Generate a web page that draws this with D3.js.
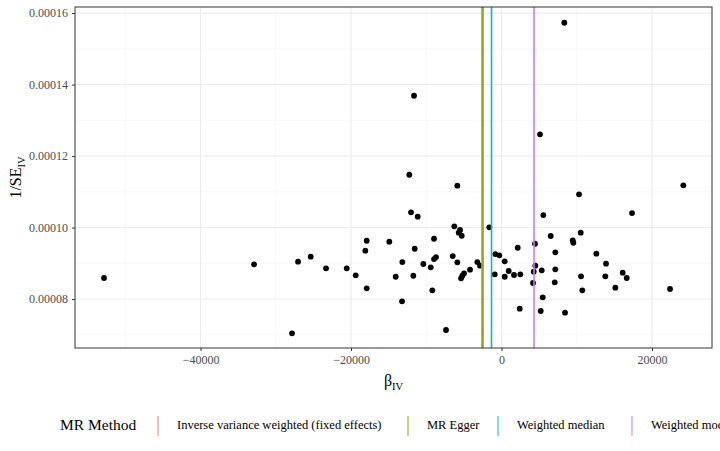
<!DOCTYPE html>
<html>
<head>
<meta charset="utf-8">
<script src="https://cdn.jsdelivr.net/npm/d3@7"></script>
<style>
  body { margin: 0; background: #fff; }
  svg text { font-family: "Liberation Serif", "DejaVu Serif", serif !important; }
</style>
</head>
<body>
<svg id="chart" width="720" height="451"></svg>
<script>
// SNP estimates: beta_IV and 1/SE_IV (x 1e-5)
const beta = [8346, -11628, 5116, -12252, -5874, 24159, 10299, -12026, -11136, 5555,
  17342, -1621, -6272, -5515, -5688, -5289, 6538, 10525, -17914, -14910,
  -8970, 9462, 9541, -18100, -11535, 2153, 4452, 7149, -824, -292,
  12598, -6485, -8704, -8970, -13183, -5874, -3216, -2857, 425, 13887,
  -10392, -9409, 4492, -4186, -4983, -5209, -5382, 957, 4279, 5342,
  7149, 16106, -904, 425, 1661, 2498, -14060, -11721, 10565, 13794,
  16638, 4186, 7070, -17914, -9196, 5475, 10737, 15123, 22392, -13223,
  2419, 5209, 8439, -7375, -52824, -32890, -27840, -27043, -25355, -23322,
  -20571, -19375];
const invSe = [15.729, 13.687, 12.607, 11.477, 11.170, 11.181, 10.929, 10.426, 10.303, 10.350,
  10.406, 10.006, 10.034, 9.931, 9.855, 9.771, 9.763, 9.855, 9.631, 9.603,
  9.687, 9.642, 9.575, 9.352, 9.407, 9.435, 9.547, 9.307, 9.259, 9.223,
  9.268, 9.203, 9.175, 9.119, 9.035, 9.027, 9.035, 8.932, 9.055, 8.988,
  8.980, 8.887, 8.932, 8.820, 8.719, 8.652, 8.580, 8.784, 8.764, 8.803,
  8.831, 8.736, 8.691, 8.624, 8.672, 8.691, 8.624, 8.652, 8.635, 8.635,
  8.588, 8.448, 8.468, 8.300, 8.244, 8.048, 8.244, 8.317, 8.280, 7.936,
  7.729, 7.665, 7.617, 7.134, 8.588, 8.971, 7.041, 9.044, 9.184, 8.859,
  8.859, 8.664].map(v => v * 1e-5);

const methods = ["Inverse variance weighted (fixed effects)", "MR Egger", "Weighted median", "Weighted mode"];
const methodEst = [-2600, -2460, -1330, 4320];
const methodColors = ["#F8766D", "#7CAE00", "#00BFC4", "#C77CFF"];

const xTicks = [-40000, -20000, 0, 20000];
const yTicks = [0.00008, 0.00010, 0.00012, 0.00014, 0.00016];

const svg = d3.select('#chart');
const m = { left: 75, right: 712, top: 7, bottom: 348 };

const x = d3.scaleLinear().domain([-56680, 27970]).range([m.left, m.right]);
const y = d3.scaleLinear().domain([0.0000663, 0.0001617]).range([m.bottom, m.top]);

const grid = svg.append('g');
// minor grid
const xMinor = d3.range(-50000, 30000, 10000).filter(v => v % 20000 !== 0);
const yMinor = [0.00007, 0.00009, 0.00011, 0.00013, 0.00015];
grid.selectAll('.xm').data(xMinor).join('line')
  .attr('x1', d => x(d)).attr('x2', d => x(d)).attr('y1', m.top).attr('y2', m.bottom)
  .attr('stroke', '#f2f2f2').attr('stroke-width', 0.6);
grid.selectAll('.ym').data(yMinor).join('line')
  .attr('y1', d => y(d)).attr('y2', d => y(d)).attr('x1', m.left).attr('x2', m.right)
  .attr('stroke', '#f2f2f2').attr('stroke-width', 0.6);
// major grid
grid.selectAll('.xM').data(xTicks).join('line')
  .attr('x1', d => x(d)).attr('x2', d => x(d)).attr('y1', m.top).attr('y2', m.bottom)
  .attr('stroke', '#ebebeb').attr('stroke-width', 1.1);
grid.selectAll('.yM').data(yTicks).join('line')
  .attr('y1', d => y(d)).attr('y2', d => y(d)).attr('x1', m.left).attr('x2', m.right)
  .attr('stroke', '#ebebeb').attr('stroke-width', 1.1);

// points
svg.append('g').selectAll('circle').data(beta).join('circle')
  .attr('cx', d => x(d)).attr('cy', (d, i) => y(invSe[i])).attr('r', 2.9).attr('fill', '#000');

// method lines
svg.append('g').selectAll('line').data(methodEst).join('line')
  .attr('x1', d => x(d)).attr('x2', d => x(d)).attr('y1', m.top).attr('y2', m.bottom)
  .attr('stroke', (d, i) => methodColors[i]).attr('stroke-width', 1.6);

// panel border
svg.append('rect').attr('x', m.left).attr('y', m.top)
  .attr('width', m.right - m.left).attr('height', m.bottom - m.top)
  .attr('fill', 'none').attr('stroke', '#333').attr('stroke-width', 1);

// axes
const xAxis = svg.append('g').attr('transform', `translate(0,${m.bottom})`)
  .call(d3.axisBottom(x).tickValues(xTicks).tickFormat(d3.format('d')).tickSize(3).tickPadding(4));
const yAxis = svg.append('g').attr('transform', `translate(${m.left},0)`)
  .call(d3.axisLeft(y).tickValues(yTicks).tickFormat(d3.format('.5f')).tickSize(3).tickPadding(4));
[xAxis, yAxis].forEach(a => {
  a.attr('font-family', '"Liberation Serif", serif').attr('font-size', 12);
  a.select('.domain').remove();
  a.selectAll('line').attr('stroke', '#333');
  a.selectAll('text').attr('fill', '#4d4d4d');
});

// axis titles
const xt = svg.append('text').attr('x', (m.left + m.right) / 2).attr('y', 386)
  .attr('text-anchor', 'middle').style('font-size', '16px');
xt.append('tspan').text('β');
xt.append('tspan').attr('dy', 4).style('font-size', '10.5px').text('IV');

const yt = svg.append('text').attr('transform', `translate(21,${(m.top + m.bottom) / 2}) rotate(-90)`)
  .attr('text-anchor', 'middle').style('font-size', '16px');
yt.append('tspan').text('1/SE');
yt.append('tspan').attr('dy', 4).style('font-size', '10.5px').text('IV');

// legend
const lg = svg.append('g');
lg.append('text').attr('x', 60).attr('y', 430).style('font-size', '15.5px').text('MR Method');
const keyX = [158, 408, 498, 632];
methods.forEach((name, i) => {
  lg.append('line').attr('x1', keyX[i]).attr('x2', keyX[i]).attr('y1', 416).attr('y2', 436)
    .attr('stroke', methodColors[i]).attr('stroke-width', 1);
  lg.append('text').attr('x', keyX[i] + 19).attr('y', 429).style('font-size', '12.5px').text(name);
});
</script>
</body>
</html>
